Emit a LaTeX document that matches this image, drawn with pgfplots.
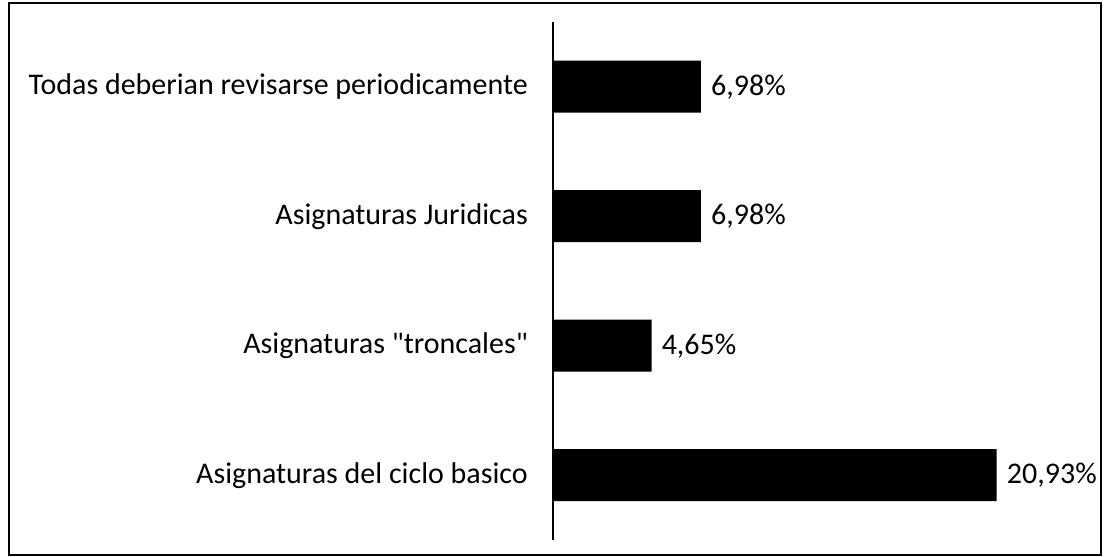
\documentclass[border=0pt]{standalone}
\usepackage{fontspec}
\setmainfont{Carlito}[Ligatures=TeXOff]
\usepackage{pgfplots}
\pgfplotsset{compat=1.18}
\newcommand\chartfont{\fontsize{30bp}{34bp}\selectfont}
\begin{document}
\begin{tikzpicture}[x=1bp,y=1bp]
\useasboundingbox (0,0) rectangle (1106,557);
\begin{axis}[
  at={(553bp,17bp)}, anchor=south west,
  scale only axis, width=530bp, height=518bp,
  xmin=0, xmax=25, ymin=-0.5, ymax=3.5,
  xbar, bar width=52bp,
  axis x line=none,
  axis y line*=left,
  y axis line style={-, line width=1.3bp, black},
  ytick={0,1,2,3},
  yticklabels={Asignaturas del ciclo basico, {Asignaturas "troncales"}, Asignaturas Juridicas, Todas deberian revisarse periodicamente},
  major tick length=0pt,
  yticklabel style={font=\chartfont, inner sep=0pt, anchor=east, xshift=-25bp},
  clip=false,
  nodes near coords={\pgfmathprintnumber[fixed,precision=2,fixed zerofill,use comma,assume math mode=true]{\pgfplotspointmeta}\%},
  every node near coord/.append style={font=\chartfont, anchor=west, inner sep=0pt, xshift=10bp, black},
  point meta=explicit,
]
\addplot[fill=black, draw=none] coordinates {(20.93,0) [20.93] (4.65,1) [4.65] (6.98,2) [6.98] (6.98,3) [6.98]};
\end{axis}
\draw[line width=2.5bp] (9,2) rectangle (1101,554);
\end{tikzpicture}
\end{document}
